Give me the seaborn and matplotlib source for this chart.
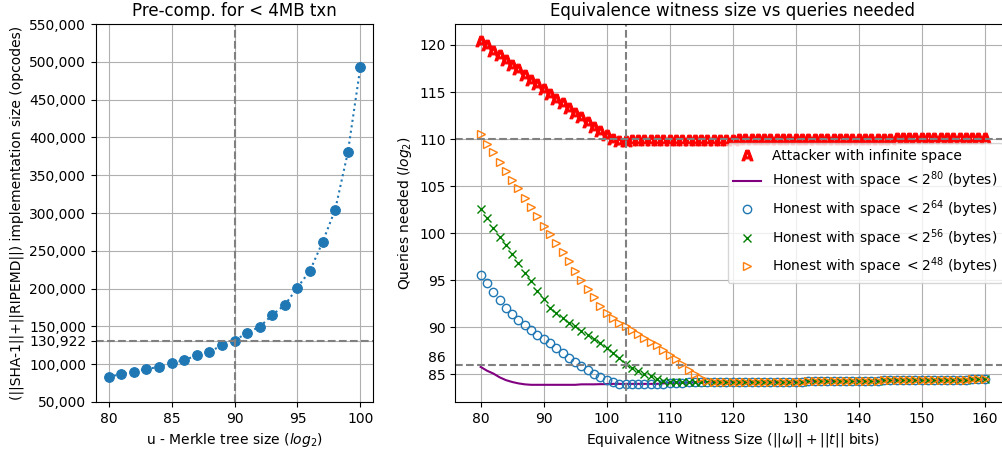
import numpy as np
import matplotlib
matplotlib.use("Agg")
import matplotlib.pyplot as plt
import matplotlib.ticker as mticker
import seaborn as sns

# left panel: pre-computation size per merkle tree size
merkle_u = list(range(80, 101))
impl_size = [83100, 87100, 89700, 93700, 96300, 101600, 105200, 111800, 116200, 125000,
             130922, 141800, 149300, 165200, 178400, 201400, 223900, 261800, 304600, 380100,
             493500]
left_yticks = [50000, 100000, 130922, 150000, 200000, 250000, 300000, 350000, 400000,
               450000, 500000, 550000]

# right panel: queries needed vs witness size (80..160 bits)
witness_bits = list(range(80, 161))
attacker = [120.4, 120.0, 119.4, 118.9, 118.4, 117.9, 117.4, 116.8, 116.3, 115.8,
            115.3, 114.8, 114.3, 113.8, 113.3, 112.8, 112.3, 111.8, 111.3, 110.9,
            110.4, 110.0, 109.8, 109.8,
            109.9, 109.9, 109.9, 109.9, 109.9, 109.9, 109.9, 109.9, 109.9, 109.9,
            109.9, 109.9, 109.9, 109.9, 109.9, 109.9, 109.9,
            110.0, 110.0, 110.0, 110.0, 110.0, 110.0, 110.0, 110.0, 110.0, 110.0,
            110.0, 110.0, 110.0, 110.0, 110.0, 110.0, 110.0, 110.0, 110.0, 110.0,
            110.0, 110.0, 110.0, 110.0, 110.0,
            110.1, 110.1, 110.1, 110.1, 110.1, 110.1, 110.1, 110.1, 110.1, 110.1,
            110.1, 110.1, 110.1, 110.1, 110.1]
# the honest curves all merge into the same flat tail from 118 bits on
tail = [84.2, 84.2, 84.2, 84.2, 84.2, 84.2, 84.2, 84.2, 84.2, 84.2, 84.2, 84.2, 84.2, 84.2,
        84.3, 84.3, 84.3, 84.3, 84.3, 84.3, 84.3, 84.3, 84.3, 84.3, 84.3, 84.3,
        84.4, 84.4, 84.4, 84.4, 84.4, 84.4, 84.4, 84.4, 84.4, 84.4, 84.4, 84.4, 84.4, 84.4,
        84.5, 84.5, 84.5]
honest80 = [85.8, 85.4, 85.1, 84.7, 84.4, 84.2, 84.05, 83.95, 83.9, 83.9,
            83.9, 83.9, 83.9, 83.9, 83.9, 83.9, 83.95, 83.95, 83.95, 83.97,
            83.97, 84.0, 84.0, 84.0, 84.0, 84.0, 84.0, 84.0, 84.0, 84.05,
            84.1, 84.1, 84.1, 84.15, 84.15, 84.2, 84.2, 84.2] + tail
honest64 = [95.6, 94.7, 93.8, 92.9, 92.1, 91.4, 90.8, 90.3, 89.7, 89.2,
            88.8, 88.3, 87.8, 87.3, 86.8, 86.3, 85.9, 85.5, 85.0, 84.7,
            84.4, 84.15, 84.0, 83.95, 83.95, 83.95, 83.95, 83.95, 83.95, 83.97,
            84.1, 84.1, 84.1, 84.15, 84.15, 84.2, 84.2, 84.2] + tail
honest56 = [102.6, 101.6, 100.6, 99.6, 98.7, 97.8, 96.8, 95.8, 94.9, 93.9,
            93.0, 92.1, 91.5, 91.0, 90.5, 90.1, 89.6, 89.2, 88.8, 88.3,
            87.8, 87.3, 86.7, 86.1, 85.7, 85.4, 85.1, 84.8, 84.5, 84.3,
            84.2, 84.15, 84.15, 84.15, 84.15, 84.2, 84.2, 84.2] + tail
honest48 = [110.5, 109.5, 108.6, 107.6, 106.6, 105.7, 104.8, 103.7, 102.8, 101.8,
            100.8, 99.9, 99.0, 98.0, 97.0, 96.0, 95.0, 94.1, 93.2, 92.3,
            91.5, 91.0, 90.5, 90.1, 89.7, 89.3, 88.9, 88.5, 88.1, 87.6,
            87.1, 86.6, 86.1, 85.5, 85.0, 84.6, 84.35, 84.25] + tail
right_yticks = [85, 90, 95, 100, 105, 110, 115, 120]

fig = plt.figure(figsize=(10.03, 4.53), dpi=100)
ax1 = fig.add_axes([0.0957, 0.1126, 0.2762, 0.8344])
ax2 = fig.add_axes([0.4541, 0.1126, 0.5528, 0.8344])

# %% left
sns.lineplot(x=merkle_u, y=impl_size, ax=ax1, color="C0", linestyle=":", marker="o",
             markersize=7, markeredgecolor="C0", errorbar=None)
ax1.axhline(130922, color="gray", linestyle="--")
ax1.axvline(90, color="gray", linestyle="--")
ax1.set_xlim(79, 101)
ax1.set_ylim(50000, 550000)
ax1.set_yticks(left_yticks)
ax1.yaxis.set_major_formatter(mticker.FuncFormatter(lambda v, p: f"{int(v):,}"))
ax1.grid(True)
ax1.set_title("Pre-comp. for < 4MB txn")
ax1.set_xlabel("u - Merkle tree size ($log_2$)")
ax1.set_ylabel("(||SHA-1||+||RIPEMD||) implementation size (opcodes)")

# %% right
sns.lineplot(x=witness_bits, y=attacker, ax=ax2, color="red", linestyle="",
             marker=r"$\mathbf{A}$", markersize=8, markeredgecolor="red",
             markeredgewidth=0.8, errorbar=None, label="Attacker with infinite space")
sns.lineplot(x=witness_bits, y=honest80, ax=ax2, color="purple", errorbar=None,
             label=r"Honest with space $< 2^{80}$ (bytes)")
sns.lineplot(x=witness_bits, y=honest64, ax=ax2, color="C0", linestyle="", marker="o",
             markersize=6, markerfacecolor="none", markeredgecolor="C0", markeredgewidth=1,
             errorbar=None, label=r"Honest with space $< 2^{64}$ (bytes)")
sns.lineplot(x=witness_bits, y=honest56, ax=ax2, color="green", linestyle="", marker="x",
             markersize=6, markeredgecolor="green", markeredgewidth=1, errorbar=None,
             label=r"Honest with space $< 2^{56}$ (bytes)")
sns.lineplot(x=witness_bits, y=honest48, ax=ax2, color="C1", linestyle="", marker=">",
             markersize=6, markerfacecolor="none", markeredgecolor="C1", markeredgewidth=1,
             errorbar=None, label=r"Honest with space $< 2^{48}$ (bytes)")
ax2.axhline(110, color="gray", linestyle="--")
ax2.axhline(86, color="gray", linestyle="--")
ax2.axvline(103, color="gray", linestyle="--")
ax2.set_yticks(right_yticks)
# 86 is labelled just above its dashed line, without a tick mark
ax2.annotate("86", xy=(0, 86), xycoords=ax2.get_yaxis_transform(), xytext=(-7, 0),
             textcoords="offset points", ha="right", va="bottom", fontsize=10)
ax2.set_xticks(range(80, 161, 10))
ax2.grid(True)
ax2.set_title("Equivalence witness size vs queries needed")
ax2.set_xlabel(r"Equivalence Witness Size ($||\omega||+||t||$ bits)")
ax2.set_ylabel("Queries needed ($log_2$)")
ax2.legend(loc="center right")

fig.savefig("out.png", dpi=100)
